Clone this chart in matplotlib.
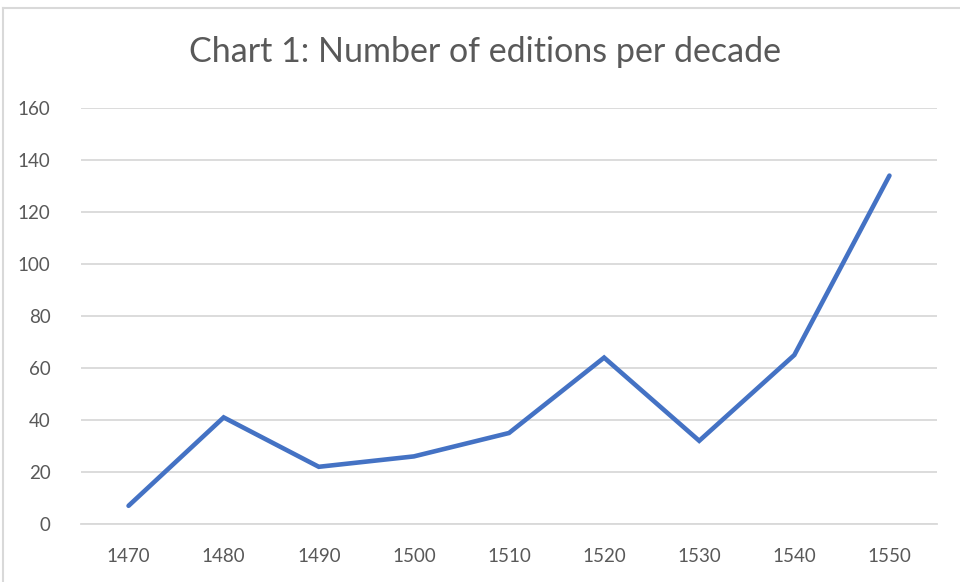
import matplotlib.pyplot as plt
from matplotlib.lines import Line2D

# data
decades = ['1470', '1480', '1490', '1500', '1510', '1520', '1530', '1540', '1550']
editions = [7, 41, 22, 26, 35, 64, 32, 65, 134]
y_ticks = [0, 20, 40, 60, 80, 100, 120, 140, 160]

plt.rcParams['font.family'] = ['Lato', 'DejaVu Sans']

fig = plt.figure(figsize=(9.6, 5.82), dpi=100)
ax = fig.add_axes([81 / 960, 1 - 524 / 582, 856 / 960, 416 / 582])

x = list(range(len(decades)))
ax.plot(x, editions, color='#4472C4', linewidth=3.3, solid_capstyle='round',
        solid_joinstyle='miter')

ax.set_xlim(-0.5, len(decades) - 0.5)
ax.set_ylim(0, 160)
ax.set_yticks(y_ticks)
ax.set_xticks(x)
ax.set_xticklabels(decades)
ax.grid(axis='y', color='#d9d9d9', linewidth=1.3)
ax.set_axisbelow(True)
for s in ax.spines.values():
    s.set_visible(False)
ax.spines['bottom'].set_visible(True)
ax.spines['bottom'].set_color('#d9d9d9')
ax.spines['bottom'].set_linewidth(1.3)
ax.tick_params(length=0, labelsize=13.5, labelcolor='#595959')
ax.tick_params(axis='x', pad=17)
ax.tick_params(axis='y', pad=22)

fig.text(485 / 960, 1 - 52 / 582, 'Chart 1: Number of editions per decade',
         ha='center', va='center', fontsize=24.5, color='#595959')

# frame of the chart area, as in the screenshot
fig.add_artist(Line2D([3 / 960, 1], [1 - 8 / 582, 1 - 8 / 582],
                      transform=fig.transFigure, color='#d9d9d9', linewidth=1.5))
fig.add_artist(Line2D([3 / 960, 3 / 960], [0, 1 - 8 / 582],
                      transform=fig.transFigure, color='#d9d9d9', linewidth=1.5))

fig.savefig('out.png', dpi=100)
